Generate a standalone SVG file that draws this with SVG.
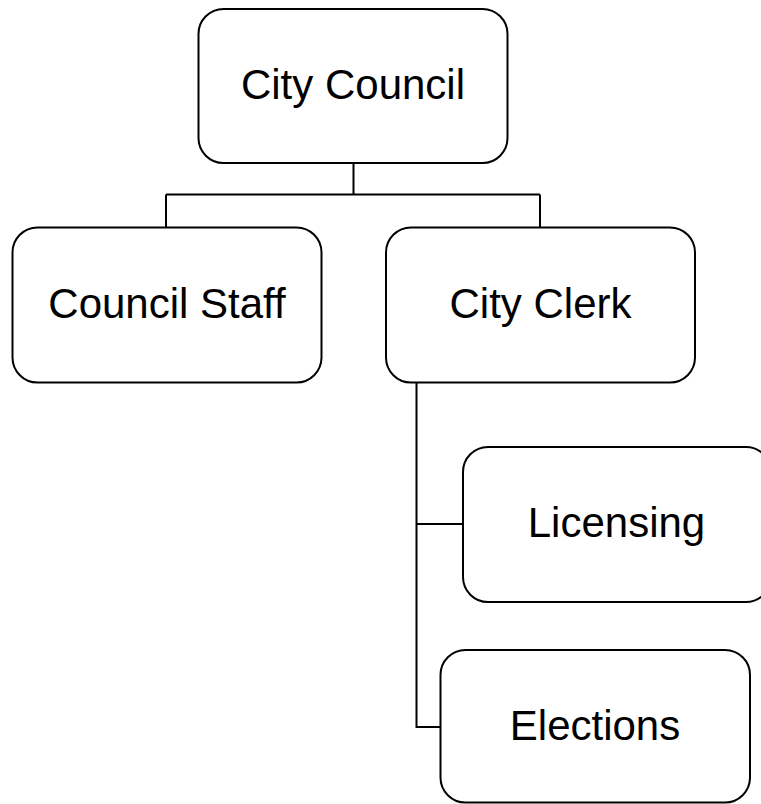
<svg xmlns="http://www.w3.org/2000/svg" width="761" height="804" viewBox="0 0 761 804">
<style>
.box{fill:#fff;stroke:#000;stroke-width:2}
.lbl{font-family:"Liberation Sans",Arial,sans-serif;font-size:42px;fill:#000;text-anchor:middle}
.con{fill:none;stroke:#000;stroke-width:2}
</style>
<rect width="761" height="804" fill="#fff"/>
<g id="connectors">
<path class="con" d="M353.5 163V194.5M166 194.5H540M166 194.5V227.5M540 194.5V227.5"/>
<path class="con" d="M416.5 382.5V727H440.5M416.5 524H463"/>
</g>
<g id="city-council">
<rect class="box" x="198.5" y="9" width="309" height="154" rx="25"/>
<text class="lbl" x="353" y="99">City Council</text>
</g>
<g id="council-staff">
<rect class="box" x="12.5" y="227.5" width="309" height="155" rx="25"/>
<text class="lbl" x="167" y="317.5">Council Staff</text>
</g>
<g id="city-clerk">
<rect class="box" x="386" y="227.5" width="309" height="155" rx="25"/>
<text class="lbl" x="540.5" y="317.5">City Clerk</text>
</g>
<g id="licensing">
<rect class="box" x="463" y="447" width="308" height="155" rx="25"/>
<text class="lbl" x="616.5" y="536.5">Licensing</text>
</g>
<g id="elections">
<rect class="box" x="440.5" y="650" width="309.5" height="152.5" rx="25"/>
<text class="lbl" x="595" y="740">Elections</text>
</g>
</svg>
